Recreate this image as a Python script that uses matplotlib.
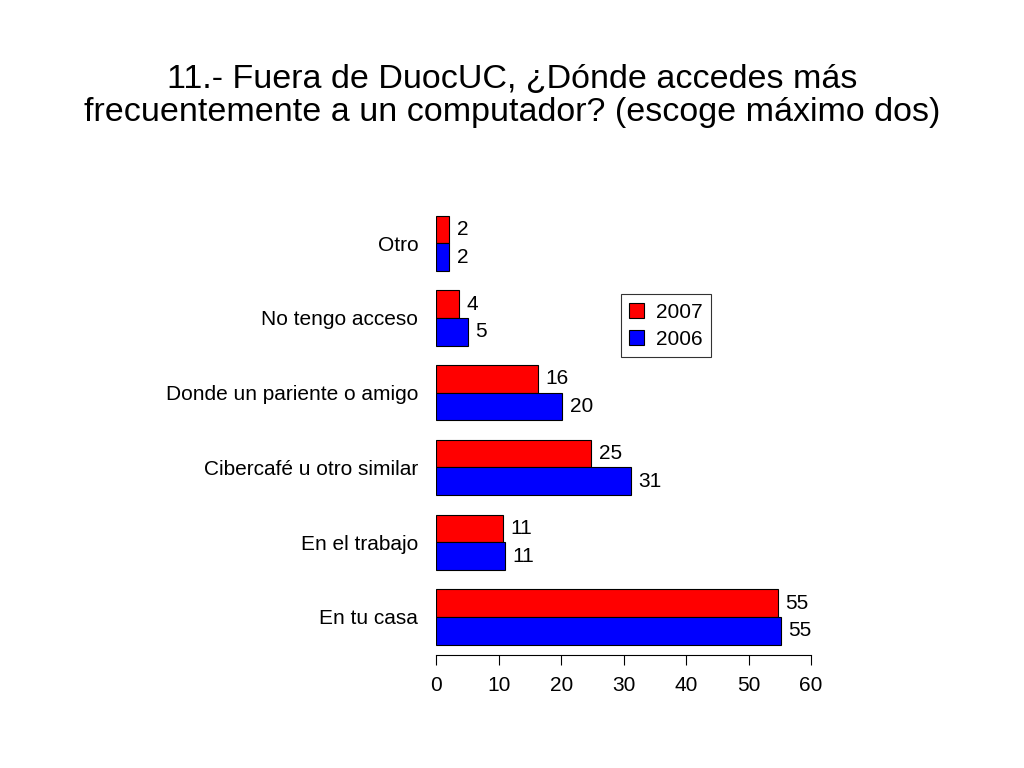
import matplotlib
matplotlib.use("Agg")
import matplotlib.pyplot as plt
import numpy as np

categories = ["En tu casa", "En el trabajo", "Cibercafé u otro similar",
              "Donde un pariente o amigo", "No tengo acceso", "Otro"]
v2007 = [54.7, 10.7, 24.8, 16.3, 3.7, 2.1]
v2006 = [55.2, 11.0, 31.2, 20.2, 5.1, 2.1]
xticks = [0, 10, 20, 30, 40, 50, 60]

plt.rcParams["font.family"] = "Liberation Sans"
fs = 15
fig = plt.figure(figsize=(10.24, 7.68), dpi=100)
ax = fig.add_axes([0.426, 0.147, 0.366, 0.586])
y = np.arange(len(categories))
h = 0.37
ax.barh(y + h/2, v2007, h, color="#ff0000", edgecolor="black", linewidth=0.8, label="2007")
ax.barh(y - h/2, v2006, h, color="#0000ff", edgecolor="black", linewidth=0.8, label="2006")
for yi, a, b in zip(y, v2007, v2006):
    ax.text(a + 1.2, yi + h/2, f"{round(a)}", va="center", ha="left", fontsize=fs)
    ax.text(b + 1.2, yi - h/2, f"{round(b)}", va="center", ha="left", fontsize=fs)
ax.set_yticks(y)
ax.set_yticklabels(categories, fontsize=fs)
ax.tick_params(axis="y", length=0, pad=13)
ax.set_xticks(xticks)
ax.tick_params(axis="x", labelsize=fs, length=7, pad=8, direction="out")
ax.set_xlim(0, 60)
ax.set_ylim(-0.51, 5.51)
for s in ["top", "right", "left"]:
    ax.spines[s].set_visible(False)
leg = ax.legend(loc="upper left", bbox_to_anchor=(0.465, 0.825), fontsize=fs,
                frameon=True, fancybox=False, edgecolor="black", handlelength=0.7,
                handleheight=0.7, borderpad=0.4, labelspacing=0.4, handletextpad=0.6)
leg.get_frame().set_linewidth(0.8)
fig.text(0.5, 0.875, "11.- Fuera de DuocUC, ¿Dónde accedes más\nfrecuentemente a un computador? (escoge máximo dos)",
         ha="center", va="center", fontsize=24.5, linespacing=1.1)
fig.savefig("out.png", dpi=100)
